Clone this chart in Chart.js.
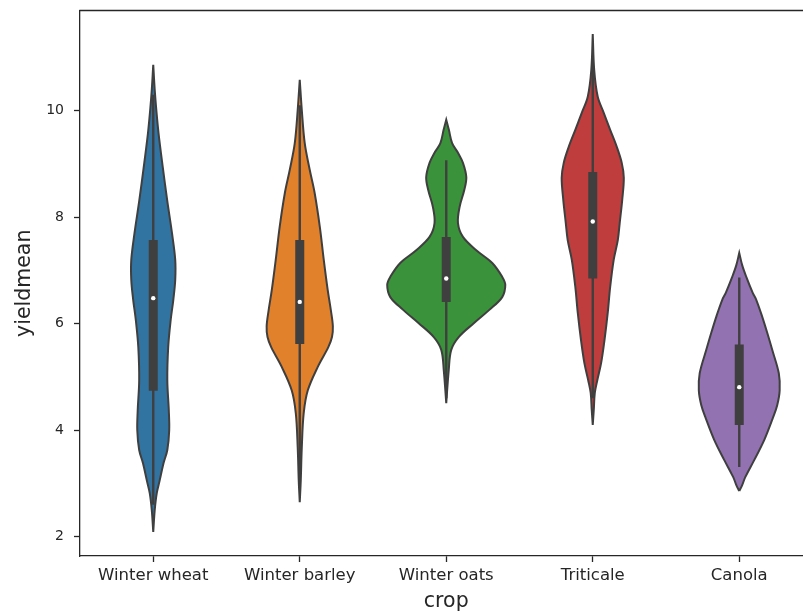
<!DOCTYPE html>
<html>
<head>
<meta charset="utf-8">
<script src="https://cdn.jsdelivr.net/npm/chart.js@4/dist/chart.umd.min.js"></script>
<style>
  html, body { margin: 0; padding: 0; background: #fff; overflow: hidden; }
  #wrap { width: 820px; height: 614px; }
</style>
</head>
<body>
<div id="wrap"><canvas id="c"></canvas></div>
<script>
// Crop categories and tick labels
const crops = ['Winter wheat', 'Winter barley', 'Winter oats', 'Triticale', 'Canola'];
const yTicks = [2, 4, 6, 8, 10];
const colors = ['#3274a1', '#e1812c', '#3a923a', '#c03d3e', '#9372b2'];

// Kernel-density outlines: yield levels and violin half-widths (category units)
const wheatY    = [2.09, 2.50, 2.82, 3.06, 3.38, 3.63, 4.00, 4.38, 4.94, 5.56, 6.07, 6.45, 6.82, 7.20, 7.70, 8.32, 8.94, 9.58, 10.01, 10.39, 10.86];
const wheatHalf = [0, 0.010, 0.024, 0.044, 0.070, 0.096, 0.109, 0.106, 0.096, 0.102, 0.119, 0.137, 0.150, 0.150, 0.128, 0.095, 0.065, 0.036, 0.021, 0.010, 0];

const barleyY    = [2.65, 3.06, 3.68, 4.32, 4.75, 5.19, 5.56, 5.75, 5.95, 6.26, 6.63, 7.20, 7.82, 8.45, 8.89, 9.39, 10.01, 10.58];
const barleyHalf = [0, 0.007, 0.014, 0.027, 0.055, 0.123, 0.195, 0.220, 0.226, 0.212, 0.191, 0.164, 0.137, 0.102, 0.068, 0.034, 0.014, 0];

const oatsY    = [4.51, 5.13, 5.51, 5.75, 6.01, 6.26, 6.50, 6.73, 6.88, 7.14, 7.38, 7.63, 7.89, 8.19, 8.51, 8.75, 9.02, 9.21, 9.39, 9.64, 9.83];
const oatsHalf = [0, 0.017, 0.034, 0.085, 0.188, 0.294, 0.382, 0.403, 0.382, 0.314, 0.205, 0.114, 0.080, 0.091, 0.123, 0.137, 0.114, 0.080, 0.040, 0.018, 0];

const triticaleY    = [4.10, 4.38, 4.70, 4.94, 5.26, 5.69, 6.20, 6.69, 7.20, 7.57, 7.89, 8.32, 8.74, 9.02, 9.32, 9.64, 9.96, 10.26, 10.76, 11.44];
const triticaleHalf = [0, 0.007, 0.014, 0.031, 0.057, 0.080, 0.102, 0.119, 0.143, 0.171, 0.184, 0.201, 0.212, 0.198, 0.164, 0.119, 0.075, 0.034, 0.010, 0];

const canolaY    = [2.86, 2.97, 3.12, 3.44, 3.82, 4.25, 4.47, 4.75, 5.07, 5.51, 5.83, 6.13, 6.45, 6.58, 6.88, 7.10, 7.33];
const canolaHalf = [0, 0.020, 0.041, 0.102, 0.171, 0.232, 0.259, 0.276, 0.270, 0.225, 0.191, 0.157, 0.116, 0.092, 0.048, 0.020, 0];

// Box summaries per crop (same order as crops)
const whiskerLow  = [2.60, 3.00, 4.60, 4.60, 3.31];
const q1          = [4.74, 5.62, 6.41, 6.85, 4.10];
const medians     = [6.48, 6.41, 6.85, 7.92, 4.81];
const q3          = [7.57, 7.57, 7.63, 8.85, 5.61];
const whiskerHigh = [10.30, 10.10, 9.07, 10.90, 6.87];

const profiles = [
  [wheatY, wheatHalf],
  [barleyY, barleyHalf],
  [oatsY, oatsHalf],
  [triticaleY, triticaleHalf],
  [canolaY, canolaHalf]
];

const edge = '#3f3f3f';
const ink = '#262626';
const datasets = [];

// Closed outline: right side bottom→top, then left side top→bottom
profiles.forEach(([ys, hw], i) => {
  const pts = [];
  ys.forEach((y, k) => pts.push({ x: i + hw[k], y }));
  for (let k = ys.length - 1; k >= 0; k--) pts.push({ x: i - hw[k], y: ys[k] });
  datasets.push({
    data: pts, showLine: true, fill: 'shape', tension: 0.35,
    backgroundColor: colors[i], borderColor: edge, borderWidth: 2,
    pointRadius: 0, order: 3
  });
});

crops.forEach((_, i) => {
  datasets.push({
    data: [{ x: i, y: whiskerLow[i] }, { x: i, y: whiskerHigh[i] }],
    showLine: true, borderColor: edge, borderWidth: 2.4, pointRadius: 0,
    borderCapStyle: 'butt', order: 2
  });
  datasets.push({
    data: [{ x: i, y: q1[i] }, { x: i, y: q3[i] }],
    showLine: true, borderColor: edge, borderWidth: 9, pointRadius: 0,
    borderCapStyle: 'butt', order: 1
  });
});

datasets.push({
  data: medians.map((m, i) => ({ x: i, y: m })),
  showLine: false, pointRadius: 2.2, pointBackgroundColor: '#ffffff',
  pointBorderWidth: 0, order: 0
});

// Top edge of the axes frame
const topFrame = {
  id: 'topFrame',
  afterDraw(chart) {
    const { ctx, chartArea: a } = chart;
    ctx.save();
    ctx.strokeStyle = ink;
    ctx.lineWidth = 1.3;
    ctx.beginPath();
    ctx.moveTo(a.left - 0.65, a.top);
    ctx.lineTo(a.right, a.top);
    ctx.stroke();
    ctx.restore();
  }
};

const font = { family: 'DejaVu Sans' };

new Chart(document.getElementById('c'), {
  type: 'scatter',
  data: { datasets },
  plugins: [topFrame],
  options: {
    responsive: true,
    maintainAspectRatio: false,
    animation: false,
    events: [],
    layout: { padding: { top: 10.5, right: 7.5, left: 0, bottom: 0 } },
    plugins: { legend: { display: false }, tooltip: { enabled: false } },
    scales: {
      x: {
        type: 'linear', min: -0.5, max: 4.5, position: 'bottom',
        afterBuildTicks: s => { s.ticks = crops.map((_, i) => ({ value: i })); },
        afterFit: s => { s.height = 58; s.paddingLeft = 0; s.paddingRight = 0; },
        ticks: { color: ink, font: { ...font, size: 16.5 }, padding: 4,
                 callback: v => crops[v] ?? '', maxRotation: 0, autoSkip: false },
        grid: { display: true, drawOnChartArea: false, drawTicks: true, tickLength: 6, tickColor: ink, tickWidth: 1.3 },
        border: { display: true, color: ink, width: 1.3 },
        title: { display: true, text: 'crop', color: ink, font: { ...font, size: 20.5 }, padding: { top: 0, bottom: 0 } }
      },
      y: {
        type: 'linear', min: 1.64, max: 11.88, position: 'left',
        afterBuildTicks: s => { s.ticks = yTicks.map(v => ({ value: v })); },
        afterFit: s => { s.width = 80; s.paddingTop = 0; s.paddingBottom = 0; },
        ticks: { color: ink, font: { ...font, size: 14 }, padding: 10 },
        grid: { display: true, drawOnChartArea: false, drawTicks: true, tickLength: 6, tickColor: ink, tickWidth: 1.3 },
        border: { display: true, color: ink, width: 1.3 },
        title: { display: true, text: 'yieldmean', color: ink, font: { ...font, size: 20.5 }, padding: { top: 12, bottom: 0 } }
      }
    }
  }
});
</script>
</body>
</html>
